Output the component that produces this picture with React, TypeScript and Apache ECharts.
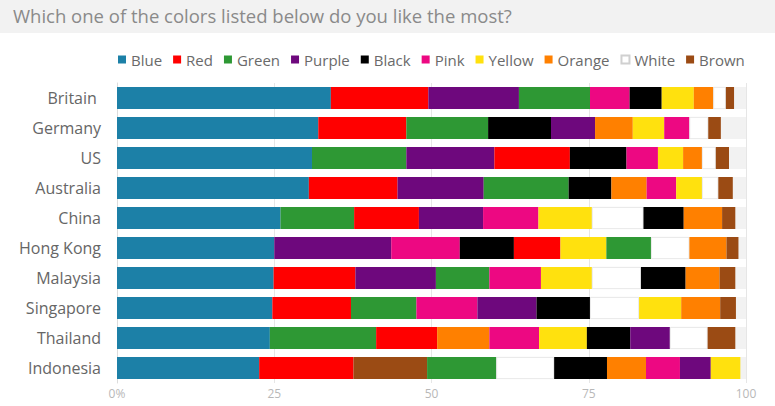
import React, { useEffect, useRef } from "react";
import * as echarts from "echarts";

const titleText = "Which one of the colors listed below do you like the most?";
const countries = ["Britain ", "Germany", "US", "Australia", "China", "Hong Kong", "Malaysia", "Singapore", "Thailand", "Indonesia"];
const colorNames = ["Blue", "Red", "Green", "Purple", "Black", "Pink", "Yellow", "Orange", "White", "Brown"];
const colorHex = ["#1c80a7", "#ff0000", "#2e9834", "#6e087d", "#000000", "#ed0882", "#ffe10e", "#ff8000", "#ffffff", "#9b4b14"];

const blue = [34.0, 32.0, 31.0, 30.5, 26.0, 25.0, 24.9, 24.7, 24.3, 22.6];
const red = [15.5, 14.0, 12.0, 14.1, 10.3, 7.4, 13.0, 12.5, 9.7, 15.0];
const green = [11.3, 13.0, 15.0, 13.5, 11.7, 7.1, 8.5, 10.4, 16.9, 11.0];
const purple = [14.4, 7.0, 14.0, 13.7, 10.2, 18.6, 12.8, 9.4, 6.3, 4.9];
const black = [5.1, 10.0, 9.0, 6.8, 6.4, 8.6, 7.1, 8.5, 6.9, 8.4];
const pink = [6.3, 4.0, 5.0, 4.7, 8.8, 10.9, 8.2, 9.7, 7.9, 5.4];
const yellow = [5.1, 5.0, 4.0, 4.1, 8.5, 7.3, 8.1, 6.7, 7.6, 4.7];
const orange = [3.1, 6.0, 3.0, 5.6, 6.1, 5.9, 5.4, 6.2, 8.3, 6.2];
const white = [2.0, 3.0, 2.2, 2.6, 8.2, 6.1, 7.8, 7.8, 6.0, 9.2];
const brown = [1.3, 2.0, 2.1, 2.3, 2.1, 1.9, 2.5, 2.5, 4.4, 11.7];

const xTicks = [0, 25, 50, 75, 100];

const FONT = "'Open Sans', Lato, sans-serif";

export default function App() {
  const ref = useRef<HTMLDivElement>(null);
  useEffect(() => {
    document.body.style.margin = "0";
    if (!ref.current) return;
    const chart = echarts.init(ref.current, null, { renderer: "svg" });
    const byColor = [blue, red, green, purple, black, pink, yellow, orange, white, brown];

    // per country, segments sorted descending (stable by legend order)
    const sorted = countries.map((_, ci) =>
      colorNames
        .map((name, k) => ({ k, value: byColor[k][ci] }))
        .sort((a, b) => b.value - a.value)
    );

    const posSeries: any[] = [];
    for (let r = 0; r < colorNames.length; r++) {
      posSeries.push({
        name: "pos" + r,
        type: "bar",
        stack: "total",
        barWidth: 22,
        showBackground: r === 0,
        backgroundStyle: { color: "#f2f2f2" },
        data: sorted.map((row) => {
          const seg = row[r];
          const isWhite = colorNames[seg.k] === "White";
          return {
            value: seg.value,
            name: colorNames[seg.k],
            itemStyle: {
              color: colorHex[seg.k],
              borderColor: isWhite ? "#e4e4e4" : undefined,
              borderWidth: isWhite ? 0.8 : 0,
            },
          };
        }),
      });
    }

    const legendSeries = colorNames.map((name, k) => ({
      name,
      type: "bar",
      stack: "total",
      barWidth: 22,
      data: [],
      itemStyle: {
        color: colorHex[k],
        borderColor: name === "White" ? "#d0d0d0" : colorHex[k],
        borderWidth: name === "White" ? 1 : 0,
      },
    }));

    chart.setOption({
      animation: false,
      textStyle: { fontFamily: FONT },
      graphic: [
        {
          type: "rect",
          left: 0,
          top: 0,
          z: 0,
          shape: { width: 775, height: 33 },
          style: { fill: "#f2f2f2" },
        },
      ],
      title: {
        text: titleText,
        left: 8,
        top: 1,
        textStyle: { fontFamily: FONT, fontSize: 18.5, fontWeight: "normal", color: "#8a8a8a" },
      },
      legend: {
        data: colorNames,
        left: 118,
        top: 52,
        padding: 0,
        icon: "rect",
        itemWidth: 8,
        itemHeight: 8,
        itemGap: 11,
        textStyle: { fontFamily: FONT, fontSize: 15, color: "#6a6a6a" },
      },
      grid: { left: 117, right: 29, top: 83, bottom: 23, containLabel: false },
      xAxis: {
        type: "value",
        min: xTicks[0],
        max: xTicks[xTicks.length - 1],
        interval: 25,
        axisLine: { show: false },
        axisTick: { show: false },
        splitLine: { show: true, lineStyle: { color: "#e6e6e6" } },
        axisLabel: {
          color: "#b8b8b8",
          fontSize: 12,
          margin: 4,
          formatter: (v: number) => (v === 0 ? "0%" : String(v)),
        },
      },
      yAxis: {
        type: "category",
        data: countries,
        inverse: true,
        axisLine: { show: true, lineStyle: { color: "#dcdcdc" } },
        axisTick: { show: false },
        axisLabel: { color: "#666666", fontSize: 16, margin: 16 },
      },
      series: [...posSeries, ...legendSeries],
    });
    return () => chart.dispose();
  }, []);
  return <div ref={ref} style={{ width: 775, height: 406 }} />;
}
